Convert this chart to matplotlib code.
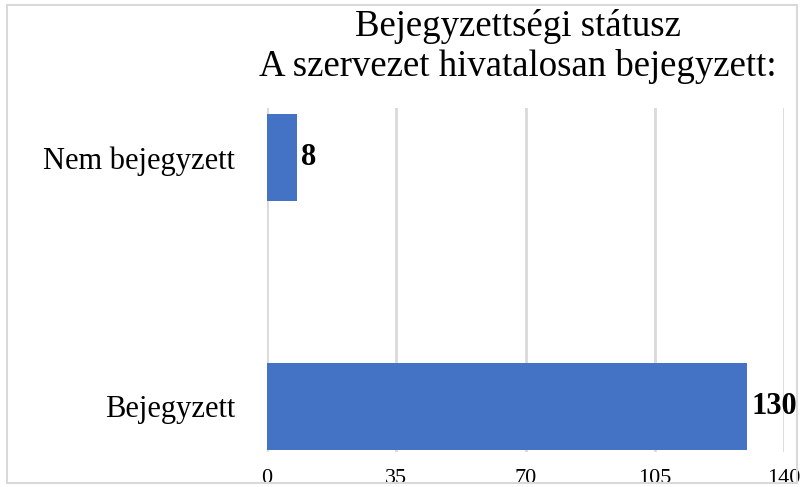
import matplotlib.pyplot as plt
from matplotlib.patches import Rectangle

plt.rcParams['font.family'] = ['Liberation Serif', 'DejaVu Serif']

categories = ['Bejegyzett', 'Nem bejegyzett']
values = [130, 8]
ticks = [0, 35, 70, 105, 140]

fig = plt.figure(figsize=(8.03, 4.87), dpi=100)
ax = fig.add_axes([267 / 803, 1 - 452 / 487, (784 - 267) / 803, (452 - 108) / 487])

ypos = list(range(len(categories)))
ax.barh(ypos, values, height=0.35, color='#4472C4', zorder=3)
for y, v in zip(ypos, values):
    ax.text(v + 1.3, y, str(v), va='center', ha='left', fontsize=22, fontweight='bold', zorder=4)

ax.set_xlim(0, 140)
ax.set_ylim(-0.183, 1.199)
ax.set_xticks(ticks)
ax.set_xticklabels([str(t) for t in ticks], fontsize=16)
ax.set_yticks(ypos)
ax.set_yticklabels(categories, fontsize=22)
ax.tick_params(length=0, pad=12)
ax.tick_params(axis='y', pad=23)
ax.grid(axis='x', color='#d9d9d9', linewidth=2, zorder=0)
for s in ax.spines.values():
    s.set_visible(False)

fig.text(0.645, 1 - 26 / 487, 'Bejegyzettségi státusz', ha='center', va='center', fontsize=26.5)
fig.text(0.645, 1 - 66 / 487, 'A szervezet hivatalosan bejegyzett:', ha='center', va='center', fontsize=26.5)

fig.patches.append(Rectangle((7 / 803, 4 / 487), 790 / 803, 478 / 487, transform=fig.transFigure,
                             fill=False, edgecolor='#d9d9d9', linewidth=1.5))

fig.savefig('out.png', dpi=100)
